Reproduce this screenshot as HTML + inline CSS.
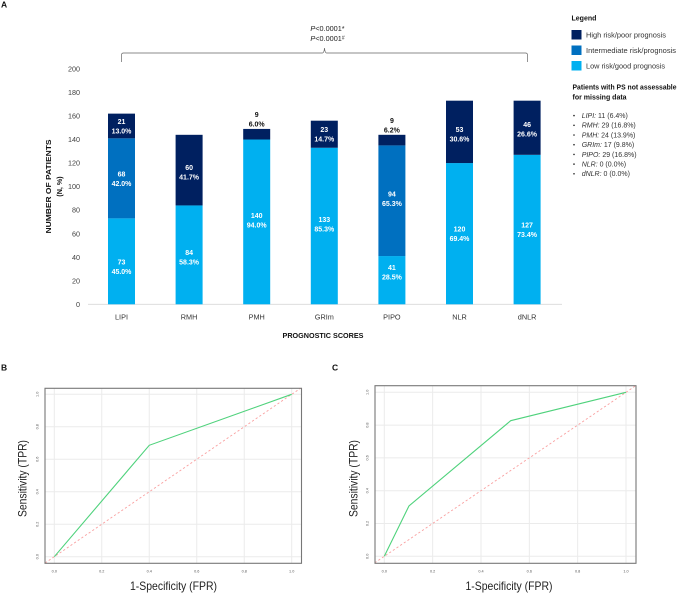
<!DOCTYPE html>
<html lang="en">
<head>
<meta charset="utf-8">
<title>Prognostic scores chart</title>
<style>
html,body{margin:0;padding:0;background:#fff;width:677px;height:593px;overflow:hidden}
svg{display:block}
text{font-family:"Liberation Sans",sans-serif}
</style>
</head>
<body>
<svg id="figure" xmlns="http://www.w3.org/2000/svg" width="677" height="593" viewBox="0 0 677 593">
  <text x="1" y="7.5" font-size="8.5" font-weight="bold" fill="#111">A</text>
  <text x="1" y="370.5" font-size="8.5" font-weight="bold" fill="#111">B</text>
  <text x="332" y="370.5" font-size="8.5" font-weight="bold" fill="#111">C</text>

  <path d="M121.5 62 V55 Q121.5 53 123.5 53 H322.5 Q324 53 324.5 48 Q325 53 326.5 53 H525.5 Q527.5 53 527.5 55 V62" fill="none" stroke="#666" stroke-width="0.7"/>
  <text x="327.5" y="31" text-anchor="middle" font-size="7.3" fill="#222"><tspan font-style="italic">P</tspan>&lt;0.0001*</text>
  <text x="327.5" y="41" text-anchor="middle" font-size="7.3" fill="#222"><tspan font-style="italic">P</tspan>&lt;0.0001<tspan font-size="5" dy="-1.5">#</tspan></text>

  <text transform="translate(51,186.5) rotate(-90)" text-anchor="middle" font-size="7.2" font-weight="bold" fill="#111" textLength="94" lengthAdjust="spacingAndGlyphs">NUMBER OF PATIENTS</text>
  <text transform="translate(62,186.5) rotate(-90)" text-anchor="middle" font-size="7.2" font-weight="bold" fill="#111">(N, %)</text>
  <text x="323" y="338" text-anchor="middle" font-size="7.2" font-weight="bold" fill="#111" textLength="81" lengthAdjust="spacingAndGlyphs">PROGNOSTIC SCORES</text>

  <g>
    <text x="571.5" y="20.5" font-size="7" font-weight="bold" fill="#111">Legend</text>
    <rect x="571.5" y="30" width="10" height="9.5" fill="#002060"/>
    <text x="586" y="37.5" font-size="7.3" fill="#333" textLength="80" lengthAdjust="spacingAndGlyphs">High risk/poor prognosis</text>
    <rect x="571.5" y="45.5" width="10" height="9.5" fill="#0070c0"/>
    <text x="586" y="53" font-size="7.3" fill="#333" textLength="90" lengthAdjust="spacingAndGlyphs">Intermediate risk/prognosis</text>
    <rect x="571.5" y="61" width="10" height="9.5" fill="#00b0f0"/>
    <text x="586" y="68.5" font-size="7.3" fill="#333" textLength="79" lengthAdjust="spacingAndGlyphs">Low risk/good prognosis</text>
    <text x="572.5" y="89.5" font-size="7" font-weight="bold" fill="#111" textLength="104" lengthAdjust="spacingAndGlyphs">Patients with PS not assessable</text>
    <text x="572.5" y="99.5" font-size="7" font-weight="bold" fill="#111">for missing data</text>
  </g>
  <g id="missing-list"></g>
  <g id="bar-chart"></g>
  <g id="roc-b"></g>
  <g id="roc-c"></g>
</svg>
<script>
const categories = ['LIPI', 'RMH', 'PMH', 'GRIm', 'PIPO', 'NLR', 'dNLR'];
const lowValues = [73, 84, 140, 133, 41, 120, 127];
const intermediateValues = [68, 0, 0, 0, 94, 0, 0];
const highValues = [21, 60, 9, 23, 9, 53, 46];
const lowPercents = ['45.0%', '58.3%', '94.0%', '85.3%', '28.5%', '69.4%', '73.4%'];
const intermediatePercents = ['42.0%', '', '', '', '65.3%', '', ''];
const highPercents = ['13.0%', '41.7%', '6.0%', '14.7%', '6.2%', '30.6%', '26.6%'];
const yTicks = [0, 20, 40, 60, 80, 100, 120, 140, 160, 180, 200];
const missingScores = ['LIPI', 'RMH', 'PMH', 'GRIm', 'PIPO', 'NLR', 'dNLR'];
const missingCounts = ['11 (6.4%)', '29 (16.8%)', '24 (13.9%)', '17 (9.8%)', '29 (16.8%)', '0 (0.0%)', '0 (0.0%)'];
const rocTicks = [0, 0.2, 0.4, 0.6, 0.8, 1];
const rocBFpr = [0, 0.4, 1];
const rocBTpr = [0, 0.686, 1];
const rocCFpr = [0, 0.102, 0.523, 1];
const rocCTpr = [0, 0.307, 0.827, 1];

const NS = 'http://www.w3.org/2000/svg';
function make(parent, tag, attrs, content) {
  const el = document.createElementNS(NS, tag);
  for (const k in attrs) el.setAttribute(k, attrs[k]);
  if (content !== undefined) el.textContent = content;
  parent.appendChild(el);
  return el;
}

/* bar chart */
const barRoot = document.getElementById('bar-chart');
const yScale = v => 304.3 - v * 1.177;
const xScale = i => 121.5 + i * 67.6;
const barWidth = 27;
const colors = { low: '#00b0f0', intermediate: '#0070c0', high: '#002060' };
const nudge = { 'low-0': 5, 'low-1': 2, 'low-2': -2, 'low-3': -2, 'low-4': -8, 'high-1': 2, 'high-5': 2, 'high-6': 1, 'intermediate-4': -2 };

yTicks.forEach(t => {
  const label = make(barRoot, 'text', { x: 80, y: yScale(t) + 2.6, 'text-anchor': 'end', 'font-size': 7.2, fill: '#404040' }, String(t));
  
  
});
const axisLine = make(barRoot, 'line', { x1: 88, x2: 562, y1: yScale(0), y2: yScale(0), stroke: '#d9d9d9', 'stroke-width': 0.8 });



categories.forEach((cat, i) => {
  const cx = xScale(i);
  let base = 0;
  const segs = [
    ['low', lowValues[i], lowPercents[i]],
    ['intermediate', intermediateValues[i], intermediatePercents[i]],
    ['high', highValues[i], highPercents[i]]
  ];
  segs.forEach(([kind, value, pct]) => {
    if (!value) return;
    const top = yScale(base + value);
    const bottom = yScale(base);
    const bar = make(barRoot, 'rect', { x: cx - barWidth / 2, y: top, width: barWidth, height: bottom - top, fill: colors[kind] });
    
    
    const small = bottom - top < 22;
    const mid = small ? top - 10 : (top + bottom) / 2 + (nudge[kind + '-' + i] || 0);
    const fill = small ? '#111' : '#fff';
    const valueLabel = make(barRoot, 'text', { x: cx, y: mid - 2, 'text-anchor': 'middle', 'font-size': 7, 'font-weight': 'bold', fill: fill }, String(value));
    
    
    const pctLabel = make(barRoot, 'text', { x: cx, y: mid + 7.5, 'text-anchor': 'middle', 'font-size': 7, 'font-weight': 'bold', fill: fill }, pct);
    
    
    base += value;
  });
  const catLabel = make(barRoot, 'text', { x: cx, y: 319.5, 'text-anchor': 'middle', 'font-size': 7.3, fill: '#333' }, cat);
  
  
});

/* missing data list */
const listRoot = document.getElementById('missing-list');
missingScores.forEach((score, i) => {
  const y = 118 + i * 9.7;
  const bullet = make(listRoot, 'circle', { cx: 574, cy: y - 2.4, r: 0.8, fill: '#222' });
  
  
  const row = make(listRoot, 'text', { x: 581.7, y: y, 'font-size': 7, fill: '#333' });
  
  
  make(row, 'tspan', { 'font-style': 'italic' }, score + ':');
  make(row, 'tspan', {}, ' ' + missingCounts[i]);
});

/* ROC charts */
function drawRoc(root, box, fpr, tpr) {
  const x = v => box.x0 + v * (box.x1 - box.x0);
  const y = v => box.y0 + v * (box.y1 - box.y0);
  const clipId = root.id + '-clip';
  const defs = make(root, 'defs', {});
  const clip = make(defs, 'clipPath', { id: clipId });
  make(clip, 'rect', { x: box.left, y: box.top, width: box.right - box.left, height: box.bottom - box.top });

  rocTicks.forEach(t => {
    const gx = make(root, 'line', { x1: x(t), x2: x(t), y1: box.top, y2: box.bottom, stroke: '#ebebeb', 'stroke-width': 1 });
    
    
    const gy = make(root, 'line', { x1: box.left, x2: box.right, y1: y(t), y2: y(t), stroke: '#ebebeb', 'stroke-width': 1 });
    
    
    const tx = make(root, 'text', { x: x(t), y: box.bottom + 9, 'text-anchor': 'middle', 'font-size': 3.8, fill: '#555' }, t.toFixed(1));
    
    
    const ty = make(root, 'text', { transform: 'translate(' + (box.left - 6.5) + ',' + y(t) + ') rotate(-90)', 'text-anchor': 'middle', 'font-size': 3.8, fill: '#555' }, t.toFixed(1));
    
    
  });

  const diagonal = make(root, 'line', { x1: x(-0.1), y1: y(-0.1), x2: x(1.1), y2: y(1.1), stroke: '#f9a0a0', 'stroke-width': 0.9, 'stroke-dasharray': '2.2 2.2', 'clip-path': 'url(#' + clipId + ')' });
  
  

  const pts = fpr.map((f, i) => x(f) + ',' + y(tpr[i])).join(' ');
  const curve = make(root, 'polyline', { points: pts, fill: 'none', stroke: '#4fd27c', 'stroke-width': 1.1 });
  
  

  const frame = make(root, 'rect', { x: box.left, y: box.top, width: box.right - box.left, height: box.bottom - box.top, fill: 'none', stroke: '#777', 'stroke-width': 1.1 });
  
  

  const xt = make(root, 'text', { x: box.xTitleX, y: 590, 'text-anchor': 'middle', 'font-size': 12, fill: '#222', textLength: 87, lengthAdjust: 'spacingAndGlyphs' }, '1-Specificity (FPR)');
  
  
  const yt = make(root, 'text', { transform: 'translate(' + box.yTitleX + ',478.5) rotate(-90)', 'text-anchor': 'middle', 'font-size': 12, fill: '#222', textLength: 77, lengthAdjust: 'spacingAndGlyphs' }, 'Sensitivity (TPR)');
  
  
}

drawRoc(document.getElementById('roc-b'),
  { left: 45, right: 301.5, top: 388.3, bottom: 563.3, x0: 54.3, x1: 291.7, y0: 556.7, y1: 394.3, xTitleX: 173.5, yTitleX: 26.5 },
  rocBFpr, rocBTpr);
drawRoc(document.getElementById('roc-c'),
  { left: 375, right: 636, top: 385.7, bottom: 563.3, x0: 384.3, x1: 626, y0: 556.3, y1: 392.3, xTitleX: 509, yTitleX: 357.5 },
  rocCFpr, rocCTpr);
</script>
</body>
</html>
